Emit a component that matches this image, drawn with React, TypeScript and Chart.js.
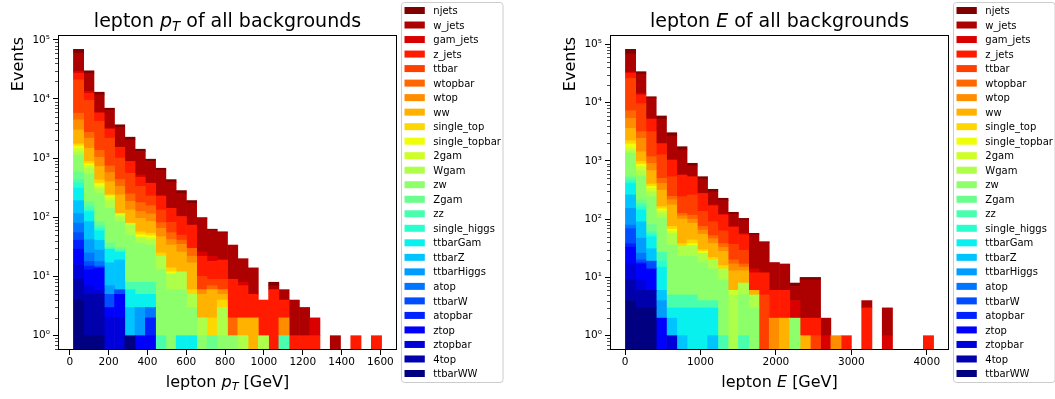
import React, { useEffect, useRef } from "react";
import { Chart, registerables } from "chart.js";

Chart.register(...registerables);

const FONT = '"DejaVu Sans", "Liberation Sans", Arial, sans-serif';
Chart.defaults.font.family = FONT;

// stack order, bottom -> top (legend shows it reversed)
const seriesNames = [
  "ttbarWW", "4top", "ztopbar", "ztop", "atopbar", "ttbarW", "atop", "ttbarHiggs",
  "ttbarZ", "ttbarGam", "single_higgs", "zz", "Zgam", "zw", "Wgam", "2gam",
  "single_topbar", "single_top", "ww", "wtop", "wtopbar", "ttbar", "z_jets",
  "gam_jets", "w_jets", "njets",
];

// bin centres (GeV)
const ptBinCenters = [
  45.5, 98.4, 151.3, 204.2, 257.1, 310.0, 362.9, 415.8, 468.7, 521.6,
  574.5, 627.4, 680.3, 733.2, 786.1, 839.0, 891.9, 944.8, 997.7, 1050.6,
  1103.5, 1156.4, 1209.3, 1262.2, 1315.1, 1368.0, 1420.9, 1473.8, 1526.7, 1579.6,
];
const eBinCenters = [
  73.1, 209.3, 345.4, 481.6, 617.8, 754.0, 890.1, 1026.3, 1162.5, 1298.6,
  1434.8, 1571.0, 1707.1, 1843.3, 1979.5, 2115.7, 2251.8, 2388.0, 2524.2, 2660.3,
  2796.5, 2932.7, 3068.8, 3205.0, 3341.2, 3477.4, 3613.5, 3749.7, 3885.9, 4022.0,
];

// ---------- lepton pT : events per bin for each background ----------
const pt_ttbarWW = [4, 1, 1, 0, 0, 1, 0, 0, 0, 0, 0, 0, 0, 0, 0, 0, 0, 0, 0, 0, 0, 0, 0, 0, 0, 0, 0, 0, 0, 0];
const pt_4top = [5, 4, 4, 0, 0, 0, 0, 0, 0, 0, 0, 0, 0, 0, 0, 0, 0, 0, 0, 0, 0, 0, 0, 0, 0, 0, 0, 0, 0, 0];
const pt_ztopbar = [7, 2, 1, 2, 2, 0, 0, 0, 0, 0, 0, 0, 0, 0, 0, 0, 0, 0, 0, 0, 0, 0, 0, 0, 0, 0, 0, 0, 0, 0];
const pt_ztop = [13, 6, 8, 1, 3, 0, 1, 1, 0, 0, 0, 0, 0, 0, 0, 0, 0, 0, 0, 0, 0, 0, 0, 0, 0, 0, 0, 0, 0, 0];
const pt_atopbar = [12, 2, 0, 0, 0, 0, 0, 1, 0, 0, 0, 0, 0, 0, 0, 0, 0, 0, 0, 0, 0, 0, 0, 0, 0, 0, 0, 0, 0, 0];
const pt_ttbarW = [14, 3, 1, 2, 1, 0, 0, 0, 0, 0, 0, 0, 0, 0, 0, 0, 0, 0, 0, 0, 0, 0, 0, 0, 0, 0, 0, 0, 0, 0];
const pt_atop = [25, 7, 3, 0, 0, 0, 0, 1, 0, 0, 0, 0, 0, 0, 0, 0, 0, 0, 0, 0, 0, 0, 0, 0, 0, 0, 0, 0, 0, 0];
const pt_ttbarHiggs = [36, 17, 10, 2, 0, 0, 2, 0, 0, 0, 0, 0, 0, 0, 0, 0, 0, 0, 0, 0, 0, 0, 0, 0, 0, 0, 0, 0, 0, 0];
const pt_ttbarZ = [75, 43, 13, 10, 13, 2, 0, 0, 0, 0, 0, 0, 0, 0, 0, 0, 0, 0, 0, 0, 0, 0, 0, 0, 0, 0, 0, 0, 0, 0];
const pt_ttbarGam = [121, 40, 18, 12, 7, 3, 2, 2, 0, 0, 1, 1, 0, 0, 0, 0, 0, 0, 0, 0, 0, 0, 0, 0, 0, 0, 0, 0, 0, 0];
const pt_single_higgs = [68, 8, 6, 0, 0, 0, 0, 0, 0, 0, 0, 0, 0, 0, 0, 0, 0, 0, 0, 0, 0, 0, 0, 0, 0, 0, 0, 0, 0, 0];
const pt_zz = [54, 20, 7, 2, 2, 2, 3, 3, 1, 0, 0, 0, 0, 0, 0, 0, 0, 0, 0, 0, 1, 0, 0, 0, 0, 0, 0, 0, 0, 0];
const pt_Zgam = [150, 32, 13, 6, 3, 0, 0, 0, 0, 0, 0, 0, 0, 1, 0, 0, 0, 0, 0, 0, 0, 0, 0, 0, 0, 0, 0, 0, 0, 0];
const pt_zw = [546, 357, 171, 105, 54, 42, 29, 26, 12, 6, 5, 2, 1, 0, 1, 1, 0, 0, 0, 0, 0, 0, 0, 0, 0, 0, 0, 0, 0, 0];
const pt_Wgam = [150, 134, 50, 49, 18, 24, 9, 8, 9, 5, 6, 2, 1, 0, 2, 0, 1, 0, 1, 0, 0, 0, 0, 0, 0, 0, 0, 0, 0, 0];
const pt_2gam = [180, 80, 26, 29, 8, 3, 0, 3, 0, 0, 0, 0, 0, 0, 0, 0, 0, 0, 0, 0, 0, 0, 0, 0, 0, 0, 0, 0, 0, 0];
const pt_single_topbar = [140, 50, 40, 10, 3, 1, 5, 4, 0, 1, 0, 0, 0, 0, 0, 0, 0, 0, 0, 0, 0, 0, 0, 0, 0, 0, 0, 0, 0, 0];
const pt_single_top = [140, 71, 58, 10, 3, 2, 6, 5, 3, 2, 0, 1, 0, 1, 1, 0, 0, 0, 0, 0, 0, 0, 0, 0, 0, 0, 0, 0, 0, 0];
const pt_ww = [1260, 593, 290, 160, 123, 53, 39, 31, 22, 20, 14, 11, 3, 4, 1, 0, 1, 2, 0, 0, 0, 0, 0, 0, 0, 0, 0, 0, 0, 0];
const pt_wtop = [1430, 705, 316, 170, 92, 53, 29, 29, 18, 8, 9, 5, 1, 0, 1, 0, 0, 0, 0, 0, 1, 0, 0, 0, 0, 0, 0, 0, 0, 0];
const pt_wtopbar = [1320, 535, 310, 170, 102, 63, 52, 43, 16, 13, 6, 8, 0, 1, 0, 1, 0, 0, 0, 0, 0, 0, 0, 0, 0, 0, 0, 0, 0, 0];
const pt_ttbar = [15250, 6710, 2814, 1435, 566, 307, 155, 73, 52, 27, 9, 0, 4, 2, 3, 0, 0, 0, 0, 0, 0, 0, 0, 0, 0, 0, 0, 0, 0, 0];
const pt_z_jets = [6300, 3110, 1600, 909, 530, 321, 144, 147, 97, 60, 53, 44, 12, 9, 10, 7, 5, 3, 3, 6, 2, 1, 1, 1, 0, 0, 0, 1, 0, 1];
const pt_gam_jets = [1800, 840, 140, 80, 0, 0, 45, 0, 0, 0, 0, 0, 4, 4, 0, 0, 1, 0, 0, 0, 0, 0, 0, 1, 0, 0, 0, 0, 0, 0];
const pt_w_jets = [30400, 13930, 5850, 3216, 1807, 1163, 774, 500, 387, 250, 152, 99, 70, 39, 36, 25, 12, 9, 0, 1, 2, 3, 2, 0, 0, 1, 0, 0, 0, 0];
const pt_njets = [9500, 2600, 1250, 600, 323, 220, 120, 83, 58, 42, 28, 19, 3, 2, 2, 0, 0, 0, 0, 1, 0, 0, 0, 0, 0, 0, 0, 0, 0, 0];

// ---------- lepton E : events per bin for each background ----------
const e_ttbarWW = [4, 3, 3, 0, 0, 0, 0, 0, 0, 0, 0, 0, 0, 0, 0, 0, 0, 0, 0, 0, 0, 0, 0, 0, 0, 0, 0, 0, 0, 0];
const e_4top = [5, 3, 3, 0, 0, 0, 0, 0, 0, 0, 0, 0, 0, 0, 0, 0, 0, 0, 0, 0, 0, 0, 0, 0, 0, 0, 0, 0, 0, 0];
const e_ztopbar = [8, 3, 0, 0, 1, 0, 0, 0, 0, 0, 0, 0, 0, 0, 0, 0, 0, 0, 0, 0, 0, 0, 0, 0, 0, 0, 0, 0, 0, 0];
const e_ztop = [16, 8, 8, 2, 0, 0, 0, 0, 0, 0, 0, 0, 0, 0, 0, 0, 0, 0, 0, 0, 0, 0, 0, 0, 0, 0, 0, 0, 0, 0];
const e_atopbar = [5, 1, 0, 0, 0, 0, 0, 0, 0, 0, 0, 0, 0, 0, 0, 0, 0, 0, 0, 0, 0, 0, 0, 0, 0, 0, 0, 0, 0, 0];
const e_ttbarW = [31, 2, 5, 0, 0, 0, 0, 0, 0, 0, 0, 0, 0, 0, 0, 0, 0, 0, 0, 0, 0, 0, 0, 0, 0, 0, 0, 0, 0, 0];
const e_atop = [10, 6, 0, 0, 0, 0, 0, 0, 0, 0, 0, 0, 0, 0, 0, 0, 0, 0, 0, 0, 0, 0, 0, 0, 0, 0, 0, 0, 0, 0];
const e_ttbarHiggs = [74, 21, 0, 2, 0, 0, 0, 0, 0, 0, 0, 0, 0, 0, 0, 0, 0, 0, 0, 0, 0, 0, 0, 0, 0, 0, 0, 0, 0, 0];
const e_ttbarZ = [107, 43, 12, 2, 1, 1, 0, 0, 1, 0, 0, 0, 0, 0, 0, 0, 0, 0, 0, 0, 0, 0, 0, 0, 0, 0, 0, 0, 0, 0];
const e_ttbarGam = [150, 54, 19, 9, 1, 2, 3, 3, 2, 0, 0, 0, 0, 0, 0, 0, 0, 0, 0, 0, 0, 0, 0, 0, 0, 0, 0, 0, 0, 0];
const e_single_higgs = [40, 20, 5, 4, 0, 0, 0, 0, 0, 0, 0, 0, 0, 0, 0, 0, 0, 0, 0, 0, 0, 0, 0, 0, 0, 0, 0, 0, 0, 0];
const e_zz = [40, 20, 6, 8, 2, 2, 2, 1, 1, 1, 0, 1, 0, 0, 0, 0, 0, 0, 0, 0, 0, 0, 0, 0, 0, 0, 0, 0, 0, 0];
const e_Zgam = [45, 30, 20, 0, 0, 0, 0, 0, 0, 0, 0, 0, 0, 0, 0, 0, 0, 0, 0, 0, 0, 0, 0, 0, 0, 0, 0, 0, 0, 0];
const e_zw = [815, 336, 162, 77, 31, 18, 18, 14, 10, 8, 0, 4, 3, 0, 0, 0, 2, 0, 0, 0, 0, 0, 0, 0, 0, 0, 0, 0, 0, 0];
const e_Wgam = [150, 130, 50, 24, 21, 11, 12, 8, 6, 5, 5, 3, 2, 0, 0, 0, 0, 0, 0, 0, 0, 0, 0, 0, 0, 0, 0, 0, 0, 0];
const e_2gam = [150, 120, 47, 12, 5, 0, 0, 0, 0, 0, 1, 0, 0, 0, 0, 0, 0, 0, 0, 0, 0, 0, 0, 0, 0, 0, 0, 0, 0, 0];
const e_single_topbar = [300, 75, 25, 10, 5, 0, 3, 2, 0, 0, 0, 0, 0, 0, 0, 0, 0, 0, 0, 0, 0, 0, 0, 0, 0, 0, 0, 0, 0, 0];
const e_single_top = [270, 100, 35, 14, 8, 4, 6, 2, 2, 2, 0, 0, 0, 0, 0, 0, 0, 0, 0, 0, 0, 0, 0, 0, 0, 0, 0, 0, 0, 0];
const e_ww = [1380, 455, 280, 151, 100, 62, 41, 25, 16, 12, 7, 5, 1, 0, 0, 2, 0, 1, 0, 0, 0, 0, 0, 0, 0, 0, 0, 0, 0, 0];
const e_wtop = [1750, 1010, 227, 95, 40, 14, 15, 10, 8, 5, 4, 2, 0, 0, 2, 0, 0, 0, 0, 0, 1, 0, 0, 0, 0, 0, 0, 0, 0, 0];
const e_wtopbar = [1920, 730, 273, 90, 30, 12, 17, 10, 6, 5, 3, 2, 0, 0, 0, 0, 0, 0, 0, 0, 0, 0, 0, 0, 0, 0, 0, 0, 0, 0];
const e_ttbar = [18830, 6410, 1990, 770, 290, 117, 143, 60, 38, 25, 17, 12, 0, 5, 0, 0, 0, 0, 1, 0, 0, 0, 0, 0, 0, 0, 0, 0, 0, 0];
const e_z_jets = [6000, 4000, 2000, 700, 500, 329, 275, 140, 80, 55, 35, 25, 6, 7, 4, 4, 0, 1, 1, 0, 0, 1, 0, 3, 0, 0, 0, 0, 0, 1];
const e_gam_jets = [1500, 820, 130, 30, 0, 0, 0, 0, 5, 2, 3, 3, 2, 0, 0, 0, 2, 0, 0, 1, 0, 0, 0, 0, 0, 1, 0, 0, 0, 0];
const e_w_jets = [34600, 16500, 6700, 3200, 1635, 968, 282, 210, 120, 88, 46, 40, 40, 28, 12, 11, 3, 7, 7, 1, 0, 0, 0, 1, 0, 2, 0, 0, 0, 0];
const e_njets = [13800, 3000, 600, 690, 370, 210, 91, 50, 30, 20, 10, 6, 3, 1, 0, 0, 1, 1, 1, 0, 0, 0, 0, 0, 0, 0, 0, 0, 0, 0];

const ptSeries = [
  pt_ttbarWW, pt_4top, pt_ztopbar, pt_ztop, pt_atopbar, pt_ttbarW, pt_atop, pt_ttbarHiggs,
  pt_ttbarZ, pt_ttbarGam, pt_single_higgs, pt_zz, pt_Zgam, pt_zw, pt_Wgam, pt_2gam,
  pt_single_topbar, pt_single_top, pt_ww, pt_wtop, pt_wtopbar, pt_ttbar, pt_z_jets,
  pt_gam_jets, pt_w_jets, pt_njets,
];
const eSeries = [
  e_ttbarWW, e_4top, e_ztopbar, e_ztop, e_atopbar, e_ttbarW, e_atop, e_ttbarHiggs,
  e_ttbarZ, e_ttbarGam, e_single_higgs, e_zz, e_Zgam, e_zw, e_Wgam, e_2gam,
  e_single_topbar, e_single_top, e_ww, e_wtop, e_wtopbar, e_ttbar, e_z_jets,
  e_gam_jets, e_w_jets, e_njets,
];

// axis ticks
const ptXTicks = [0, 200, 400, 600, 800, 1000, 1200, 1400, 1600];
const eXTicks = [0, 1000, 2000, 3000, 4000];
const yTicks = [1, 10, 100, 1000, 10000, 100000];
const yTickExp = ["⁰", "¹", "²", "³", "⁴", "⁵"];

// axis limits (matplotlib autoscale incl. margins)
const ptXRange = [-60.4, 1685.4];
const eXRange = [-199.3, 4294.3];
const ptYRange = [0.5729, 120400];
const eYRange = [0.5678, 144400];

type Seg = { t: string; it?: boolean; sub?: boolean };
const ptTitle: Seg[] = [{ t: "lepton " }, { t: "p", it: true }, { t: "T", it: true, sub: true }, { t: " of all backgrounds" }];
const ptXLabel: Seg[] = [{ t: "lepton " }, { t: "p", it: true }, { t: "T", it: true, sub: true }, { t: " [GeV]" }];
const eTitle: Seg[] = [{ t: "lepton " }, { t: "E", it: true }, { t: " of all backgrounds" }];
const eXLabel: Seg[] = [{ t: "lepton " }, { t: "E", it: true }, { t: " [GeV]" }];
const yLabel = "Events";

// matplotlib "jet" colormap
const JET_R = [[0, 0], [0.35, 0], [0.66, 1], [0.89, 1], [1, 0.5]];
const JET_G = [[0, 0], [0.125, 0], [0.375, 1], [0.64, 1], [0.91, 0], [1, 0]];
const JET_B = [[0, 0.5], [0.11, 1], [0.34, 1], [0.65, 0], [1, 0]];
function seg(points: number[][], x: number) {
  for (let i = 1; i < points.length; i++) {
    const [x0, y0] = points[i - 1];
    const [x1, y1] = points[i];
    if (x <= x1) return y0 + ((y1 - y0) * (x - x0)) / (x1 - x0);
  }
  return points[points.length - 1][1];
}
function jet(x: number) {
  const idx = Math.min(255, Math.floor(x * 256));
  const xx = idx / 255;
  const c = (v: number) => Math.round(Math.max(0, Math.min(1, v)) * 255);
  return `rgb(${c(seg(JET_R, xx))},${c(seg(JET_G, xx))},${c(seg(JET_B, xx))})`;
}
const colors = seriesNames.map((_, i) => jet(i / (seriesNames.length - 1)));

function drawRich(ctx: CanvasRenderingContext2D, segs: Seg[], cx: number, baseline: number, size: number) {
  const fontFor = (s: Seg) => `${s.it ? "italic " : ""}${s.sub ? size * 0.7 : size}px ${FONT}`;
  let total = 0;
  const widths = segs.map((s) => {
    ctx.font = fontFor(s);
    const w = ctx.measureText(s.t).width;
    total += w;
    return w;
  });
  let x = cx - total / 2;
  ctx.textAlign = "left";
  ctx.textBaseline = "alphabetic";
  ctx.fillStyle = "#000";
  segs.forEach((s, i) => {
    ctx.font = fontFor(s);
    ctx.fillText(s.t, x, baseline + (s.sub ? size * 0.2 : 0));
    x += widths[i];
  });
}

function roundRectPath(ctx: CanvasRenderingContext2D, x: number, y: number, w: number, h: number, r: number) {
  ctx.beginPath();
  ctx.moveTo(x + r, y);
  ctx.lineTo(x + w - r, y);
  ctx.arcTo(x + w, y, x + w, y + r, r);
  ctx.lineTo(x + w, y + h - r);
  ctx.arcTo(x + w, y + h, x + w - r, y + h, r);
  ctx.lineTo(x + r, y + h);
  ctx.arcTo(x, y + h, x, y + h - r, r);
  ctx.lineTo(x, y + r);
  ctx.arcTo(x, y, x + r, y, r);
  ctx.closePath();
}

function makeDecor(title: Seg[], xlabel: Seg[]) {
  return {
    id: "panelDecor",
    afterDraw(chart: any) {
      const ctx: CanvasRenderingContext2D = chart.ctx;
      const ca = chart.chartArea;
      const ys = chart.scales.y;
      ctx.save();
      // minor log ticks
      ctx.strokeStyle = "#000";
      ctx.lineWidth = 0.7;
      for (let k = -1; k <= 5; k++) {
        for (let m = 2; m <= 9; m++) {
          const v = m * Math.pow(10, k);
          if (v < ys.min || v > ys.max) continue;
          const y = Math.round(ys.getPixelForValue(v)) + 0.5;
          ctx.beginPath();
          ctx.moveTo(ca.left, y);
          ctx.lineTo(ca.left - 3, y);
          ctx.stroke();
        }
      }
      // axes frame
      ctx.lineWidth = 1;
      ctx.strokeRect(ca.left + 0.5, ca.top + 0.5, ca.right - ca.left - 1, ca.bottom - ca.top - 1);
      const cx = (ca.left + ca.right) / 2;
      drawRich(ctx, title, cx, 27, 19);
      drawRich(ctx, xlabel, cx, 386.5, 16);
      // y label (top aligned)
      ctx.save();
      ctx.translate(22.5, 37);
      ctx.rotate(-Math.PI / 2);
      ctx.font = `16px ${FONT}`;
      ctx.textAlign = "right";
      ctx.textBaseline = "alphabetic";
      ctx.fillStyle = "#000";
      ctx.fillText(yLabel, 0, 0);
      ctx.restore();
      // legend
      const lx = ca.right + 4.5;
      const ly = 2.5;
      const lw = 101.5;
      const lh = 380;
      roundRectPath(ctx, lx, ly, lw, lh, 3);
      ctx.fillStyle = "rgba(255,255,255,0.8)";
      ctx.fill();
      ctx.strokeStyle = "#cccccc";
      ctx.lineWidth = 1;
      ctx.stroke();
      ctx.font = `10px ${FONT}`;
      ctx.textAlign = "left";
      ctx.textBaseline = "alphabetic";
      const n = seriesNames.length;
      for (let j = 0; j < n; j++) {
        const i = n - 1 - j;
        const cy = 10.5 + j * 14.52;
        ctx.fillStyle = colors[i];
        ctx.fillRect(lx + 3, cy - 3.5, 20.3, 7);
        ctx.fillStyle = "#000";
        ctx.fillText(seriesNames[i], lx + 31.8, cy + 3.6);
      }
      ctx.restore();
    },
  };
}

function buildConfig(
  centers: number[],
  series: number[][],
  xRange: number[],
  yRange: number[],
  xTicks: number[],
  title: Seg[],
  xlabel: Seg[],
  width: number
): any {
  const datasets = series.map((vals, i) => ({
    label: seriesNames[i],
    data: vals.map((v, k) => ({ x: centers[k], y: v > 0 ? v : null })),
    backgroundColor: colors[i],
    borderWidth: 0,
    barPercentage: 1,
    categoryPercentage: 1,
  }));
  const tickFont = { family: FONT, size: 10.5 };
  const grid = {
    display: true,
    drawOnChartArea: false,
    drawTicks: true,
    tickLength: 5,
    tickWidth: 1,
    tickColor: "#000",
    offset: false,
  };
  return {
    type: "bar",
    data: { datasets },
    options: {
      responsive: false,
      animation: false,
      devicePixelRatio: 1,
      events: [],
      layout: { padding: { left: 0, top: 35, right: width - 397, bottom: 0 } },
      plugins: { legend: { display: false }, title: { display: false }, tooltip: { enabled: false } },
      scales: {
        x: {
          type: "linear",
          min: xRange[0],
          max: xRange[1],
          bounds: "data",
          offset: false,
          stacked: true,
          grid,
          border: { display: false },
          ticks: {
            font: tickFont,
            color: "#000",
            padding: 1,
            maxRotation: 0,
            autoSkip: false,
            callback: (v: number) => String(v),
          },
          afterBuildTicks: (s: any) => {
            s.ticks = xTicks.map((v) => ({ value: v }));
          },
          afterFit: (s: any) => {
            s.height = 49;
          },
        },
        y: {
          type: "logarithmic",
          min: yRange[0],
          max: yRange[1],
          bounds: "data",
          stacked: true,
          grid,
          border: { display: false },
          ticks: {
            font: tickFont,
            color: "#000",
            padding: 3,
            autoSkip: false,
            callback: (v: number) => "10" + yTickExp[Math.round(Math.log10(v))],
          },
          afterBuildTicks: (s: any) => {
            s.ticks = yTicks.map((v) => ({ value: v }));
          },
          afterFit: (s: any) => {
            s.width = 58;
          },
        },
      },
    },
    plugins: [makeDecor(title, xlabel)],
  };
}

function Panel(props: {
  left: number;
  width: number;
  centers: number[];
  series: number[][];
  xRange: number[];
  yRange: number[];
  xTicks: number[];
  title: Seg[];
  xlabel: Seg[];
}) {
  const ref = useRef<HTMLCanvasElement>(null);
  useEffect(() => {
    if (!ref.current) return;
    const chart = new Chart(
      ref.current,
      buildConfig(props.centers, props.series, props.xRange, props.yRange, props.xTicks, props.title, props.xlabel, props.width)
    );
    return () => chart.destroy();
  }, []);
  return (
    <canvas
      ref={ref}
      width={props.width}
      height={399}
      style={{ position: "absolute", left: props.left, top: 0, display: "block" }}
    />
  );
}

export default function App() {
  return (
    <div
      style={{
        position: "fixed",
        left: 0,
        top: 0,
        width: 1055,
        height: 399,
        background: "#fff",
        overflow: "hidden",
      }}
    >
      <Panel
        left={0}
        width={552}
        centers={ptBinCenters}
        series={ptSeries}
        xRange={ptXRange}
        yRange={ptYRange}
        xTicks={ptXTicks}
        title={ptTitle}
        xlabel={ptXLabel}
      />
      <Panel
        left={552}
        width={503}
        centers={eBinCenters}
        series={eSeries}
        xRange={eXRange}
        yRange={eYRange}
        xTicks={eXTicks}
        title={eTitle}
        xlabel={eXLabel}
      />
    </div>
  );
}
